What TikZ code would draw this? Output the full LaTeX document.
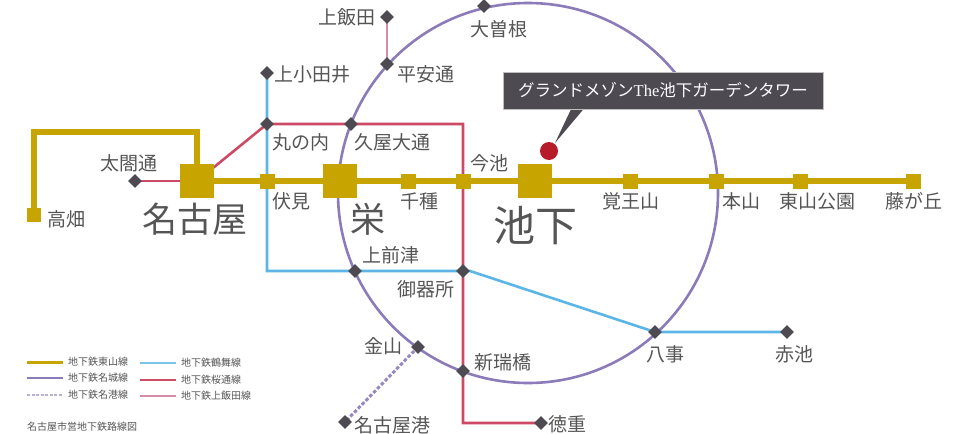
\documentclass[tikz,border=0pt]{standalone}
\usepackage{fontspec}
\setmainfont{Noto Sans CJK JP}[Scale=1]
\newfontfamily\latinserif{Liberation Serif}
\usetikzlibrary{shapes.geometric,calc}
\definecolor{yel}{HTML}{C8A400}
\definecolor{pur}{HTML}{8B7BB8}
\definecolor{blu}{HTML}{5BB5E6}
\definecolor{rd}{HTML}{CC4A66}
\definecolor{pnk}{HTML}{D58AA8}
\definecolor{dk}{HTML}{4D4A52}
\definecolor{txt}{HTML}{555555}
\definecolor{homered}{HTML}{B71C2B}
\tikzset{
 sta/.style={shape=rectangle,fill=yel,minimum size=15pt,inner sep=0pt},
 big/.style={shape=rectangle,fill=yel,minimum size=34pt,inner sep=0pt},
 dia/.style={shape=diamond,fill=dk,minimum size=14pt,inner sep=0pt},
 lb/.style={text=txt,font=\fontsize{19}{19}\selectfont,inner sep=0pt,anchor=center},
 bg/.style={text=txt,font=\fontsize{35}{35}\selectfont,inner sep=0pt,anchor=center},
 lg/.style={text=txt,font=\fontsize{10}{10}\selectfont,inner sep=0pt,anchor=west},
 yl/.style={draw=yel,line width=5.5pt},
 pl/.style={draw=pur,line width=2.6pt},
 bl/.style={draw=blu,line width=2.6pt},
 rl/.style={draw=rd,line width=2.6pt},
 kl/.style={draw=pnk,line width=2.2pt},
}
\begin{document}
\begin{tikzpicture}[x=1pt,y=-1pt]
\useasboundingbox (0,0) rectangle (970,434);
% anchors
\coordinate (c) at (528,193);
\coordinate (ya) at (34,132);
\coordinate (yb) at (197,132);
\coordinate (bk) at (470,271);
\coordinate (rk) at (463,124);
\coordinate (rb) at (463,423);
% circle
\draw[pl] (c) circle (190);
% stations, placed invisibly first for line routing
\path
 (34,215) node[sta,minimum size=14pt,opacity=0] (takabata) {}
 (197,181) node[big,opacity=0] (nagoya) {}
 (267,181) node[sta,opacity=0] (fushimi) {}
 (340,181) node[big,opacity=0] (sakae) {}
 (408,181) node[sta,opacity=0] (chikusa) {}
 (463,181) node[sta,opacity=0] (imaike) {}
 (535,181) node[big,opacity=0] (ikeshita) {}
 (630,181) node[sta,opacity=0] (kakuozan) {}
 (716,181) node[sta,opacity=0] (motoyama) {}
 (800,181) node[sta,opacity=0] (higashiyama) {}
 (913,181) node[sta,opacity=0] (fujigaoka) {}
 (135,181) node[dia,opacity=0] (taiko) {}
 (267,73) node[dia,opacity=0] (kamiotai) {}
 (267,124) node[dia,opacity=0] (marunouchi) {}
 (351,124) node[dia,opacity=0] (hisaya) {}
 (387,17) node[dia,opacity=0] (kamiiida) {}
 (387,64) node[dia,opacity=0] (heian) {}
 (484,6) node[dia,opacity=0] (ozone) {}
 (355,271) node[dia,opacity=0] (kamimaezu) {}
 (463,271) node[dia,opacity=0] (gokiso) {}
 (418,347) node[dia,opacity=0] (kanayama) {}
 (463,371) node[dia,opacity=0] (aratama) {}
 (345,422) node[dia,opacity=0] (minato) {}
 (541,423) node[dia,opacity=0] (tokushige) {}
 (655,332) node[dia,opacity=0] (yagoto) {}
 (787,332) node[dia,opacity=0] (akaike) {};
% lines
\draw[kl] (kamiiida.center) -- (heian.center);
\draw[pur!90,line width=3pt,dash pattern=on 3.5pt off 2pt] (kanayama.center) -- (minato.center);
\draw[bl] (kamiotai.center) -- (fushimi.center) -- (267,271) -- (kamimaezu.center) -- (gokiso.center) -- (bk) -- (yagoto.center) -- (akaike.center);
\draw[rl] (taiko.center) -- (nagoya.center);
\draw[rl] (nagoya.center) -- (marunouchi.center) -- (hisaya.center) -- (rk) -- (imaike.center) -- (gokiso.center) -- (aratama.center) -- (rb) -- (tokushige.center);
\draw[yl] (takabata.center) -- (ya) -- (yb) -- (nagoya.center) -- (ikeshita.center) -- (fujigaoka.center);
% visible stations
\node[sta,minimum size=14pt] at (takabata) {};
\node[big] at (nagoya) {};
\node[big] at (sakae) {};
\node[big] at (ikeshita) {};
\foreach \n in {fushimi,chikusa,imaike,kakuozan,motoyama,higashiyama,fujigaoka}{\node[sta] at (\n) {};}
\foreach \n in {taiko,kamiotai,marunouchi,hisaya,kamiiida,heian,ozone,kamimaezu,gokiso,kanayama,aratama,minato,tokushige,yagoto,akaike}{\node[dia] at (\n) {};}
% labels
\node[lb] (t1) at (66,219) {高畑};
\node[lb] (t2) at (129,163) {太閤通};
\node[bg] (t3) at (195,219) {名古屋};
\node[lb] (t4) at (291,201) {伏見};
\node[bg] (t5) at (368,219) {栄};
\node[lb] (t6) at (419,201) {千種};
\node[lb] (t7) at (489,163) {今池};
\node[bg,font=\fontsize{42}{42}\selectfont] (t8) at (535,226) {池下};
\node[lb] (t9) at (631,201) {覚王山};
\node[lb] (t10) at (741,201) {本山};
\node[lb] (t11) at (817,201) {東山公園};
\node[lb] (t12) at (914,201) {藤が丘};
\node[lb] (t13) at (312,74) {上小田井};
\node[lb] (t14) at (301,142) {丸の内};
\node[lb] (t15) at (392,142) {久屋大通};
\node[lb] (t16) at (347,17) {上飯田};
\node[lb] (t17) at (426,74) {平安通};
\node[lb] (t18) at (499,29) {大曽根};
\node[lb] (t19) at (391,255) {上前津};
\node[lb] (t20) at (426,289) {御器所};
\node[lb] (t21) at (383,346) {金山};
\node[lb] (t22) at (503,362) {新瑞橋};
\node[lb] (t23) at (392,425) {名古屋港};
\node[lb] (t24) at (567,424) {徳重};
\node[lb] (t25) at (665,354) {八事};
\node[lb] (t26) at (794,354) {赤池};
% callout
\node[shape=circle,fill=homered,minimum size=18pt,inner sep=0pt] (home) at (549,151) {};
\coordinate (tip) at (555,143);
\fill[dk] (tip) -- (573,105) -- (587,105) -- cycle;
\node[fill=dk,draw=black!25,line width=0.5pt,text=white,minimum width=320pt,minimum height=37pt,inner sep=0pt,font=\fontsize{16.5}{17}\selectfont] (callout) at (663,90.5) {グランドメゾン{\latinserif The}池下ガーデンタワー};
% legend
\coordinate (l1a) at (27,362); \coordinate (l1b) at (63,362);
\coordinate (l2a) at (27,378); \coordinate (l2b) at (63,378);
\coordinate (l3a) at (27,395); \coordinate (l3b) at (63,395);
\coordinate (l4a) at (140,363); \coordinate (l4b) at (176,363);
\coordinate (l5a) at (140,380); \coordinate (l5b) at (176,380);
\coordinate (l6a) at (140,396); \coordinate (l6b) at (176,396);
\draw[yel,line width=3pt] (l1a) -- (l1b);
\draw[pur,line width=1.2pt] (l2a) -- (l2b);
\draw[pur!60,line width=1.2pt,dash pattern=on 3pt off 1.5pt] (l3a) -- (l3b);
\draw[blu!80,line width=1.2pt] (l4a) -- (l4b);
\draw[rd,line width=1.2pt] (l5a) -- (l5b);
\draw[pnk,line width=1.2pt] (l6a) -- (l6b);
\node[lg] (g1) at (68,362) {地下鉄東山線};
\node[lg] (g2) at (68,378) {地下鉄名城線};
\node[lg] (g3) at (68,395) {地下鉄名港線};
\node[lg] (g4) at (181,363) {地下鉄鶴舞線};
\node[lg] (g5) at (181,380) {地下鉄桜通線};
\node[lg] (g6) at (181,396) {地下鉄上飯田線};
\node[lg] (g7) at (27,427) {名古屋市営地下鉄路線図};
\end{tikzpicture}
\end{document}
